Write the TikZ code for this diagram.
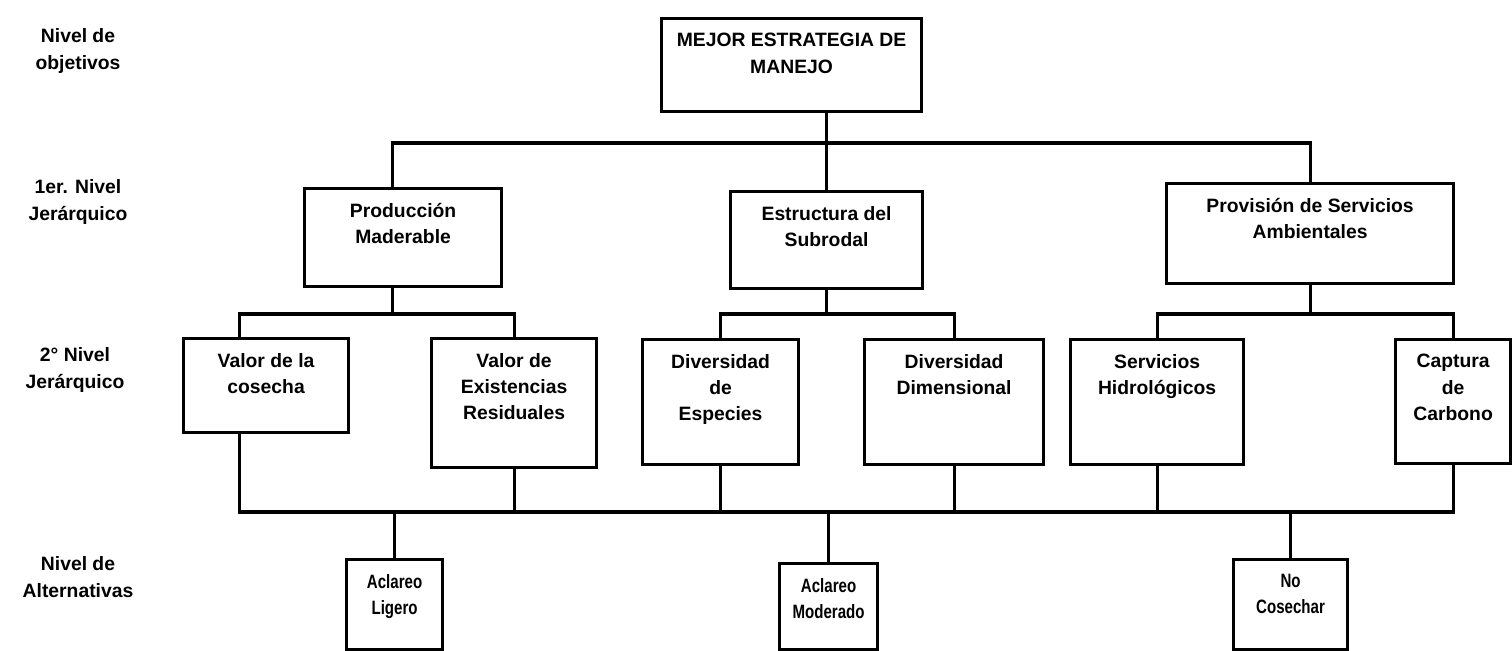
\documentclass[tikz,border=0pt]{standalone}
\usepackage{fontspec}
\setmainfont{Liberation Sans}
\newfontfamily\narrowfont[FakeStretch=0.78]{Liberation Sans}
\usepackage{tikz}
\usetikzlibrary{positioning}

\begin{document}
\begin{tikzpicture}[x=0.02cm, y=-0.02cm,
    every node/.style={font=\bfseries\fontsize{11}{15}\selectfont, align=center},
    box/.style 2 args={draw, line width=1.8pt, anchor=north west, inner sep=0pt,
        minimum width=#1*0.02cm, minimum height=#2*0.02cm},
    intext/.style={anchor=north, inner sep=3pt, yshift=-6pt},
    alttext/.style={intext, font=\narrowfont\bfseries\fontsize{11}{15}\selectfont},
    link/.style={line width=1.8pt}]
    \useasboundingbox (0,0) rectangle (1512,651);

    % Level names (left column)
    \node (obj) at (78,51) {Nivel de\\objetivos};
    \node (jer1) at (78,202) {1er. Nivel\\Jerárquico};
    \node (jer2) at (75,370) {2° Nivel\\Jerárquico};
    \node (alt) at (78,577) {Nivel de\\Alternativas};

    % Objective
    \node[box={260}{93}, label={[intext]north:MEJOR ESTRATEGIA DE\\MANEJO}] (top) at (660,17) {};

    % 1st level
    \node[box={197}{98}, label={[intext]north:Producción\\Maderable}] (prod) at (303,187) {};
    \node[box={192}{97}, label={[intext]north:Estructura del\\Subrodal}] (estr) at (729,190) {};
    \node[box={287}{100}, label={[intext]north:Provisión de Servicios\\Ambientales}] (prov) at (1165,182) {};

    % 2nd level
    \node[box={165}{94}, label={[intext]north:Valor de la\\cosecha}] (cosecha) at (182,337) {};
    \node[box={165}{129}, label={[intext]north:Valor de\\Existencias\\Residuales}] (exist) at (430,337) {};
    \node[box={156}{125}, label={[intext]north:Diversidad\\de\\Especies}] (especies) at (641,338) {};
    \node[box={179}{125}, label={[intext]north:Diversidad\\Dimensional}] (dimens) at (863,338) {};
    \node[box={173}{125}, label={[intext]north:Servicios\\Hidrológicos}] (servicios) at (1069,338) {};
    \node[box={115}{124}, label={[intext]north:Captura\\de\\Carbono}] (captura) at (1394,338) {};

    % Alternatives
    \node[box={96}{90}, label={[alttext]north:Aclareo\\Ligero}] (ligero) at (345,558) {};
    \node[box={98}{86}, label={[alttext]north:Aclareo\\Moderado}] (moderado) at (778,562) {};
    \node[box={114}{90}, label={[alttext]north:No\\Cosechar}] (nocos) at (1232,558) {};

    % Heights of the joining lines
    \coordinate (lvl1) at (0,143);
    \coordinate (lvl2) at (0,314);
    \coordinate (lvl3) at (0,512);

    \begin{scope}[link]
        % Objective to 1st level
        \draw (estr.north) -- (estr.north |- top.south);
        \draw ([xshift=-6pt]prod.north) -- ([xshift=-6pt]prod.north |- lvl1) -- (prov.north |- lvl1) -- (prov.north);

        % 1st level to 2nd level
        \draw ([xshift=-6pt]prod.south) -- ([xshift=-6pt]prod.south |- lvl2);
        \draw ([xshift=-15pt]cosecha.north) -- ([xshift=-15pt]cosecha.north |- lvl2) -- (exist.north |- lvl2) -- (exist.north);
        \draw (estr.south) -- (estr.south |- lvl2);
        \draw (especies.north) -- (especies.north |- lvl2) -- (dimens.north |- lvl2) -- (dimens.north);
        \draw (prov.south) -- (prov.south |- lvl2);
        \draw (servicios.north) -- (servicios.north |- lvl2) -- (captura.north |- lvl2) -- (captura.north);

        % 2nd level to alternatives
        \draw ([xshift=-15pt]cosecha.south) -- ([xshift=-15pt]cosecha.south |- lvl3) -- (captura.south |- lvl3) -- (captura.south);
        \foreach \n in {exist,especies,dimens,servicios}
            \draw (\n.south) -- (\n.south |- lvl3);
        \foreach \n in {ligero,moderado,nocos}
            \draw (\n.north) -- (\n.north |- lvl3);
    \end{scope}
\end{tikzpicture}
\end{document}
